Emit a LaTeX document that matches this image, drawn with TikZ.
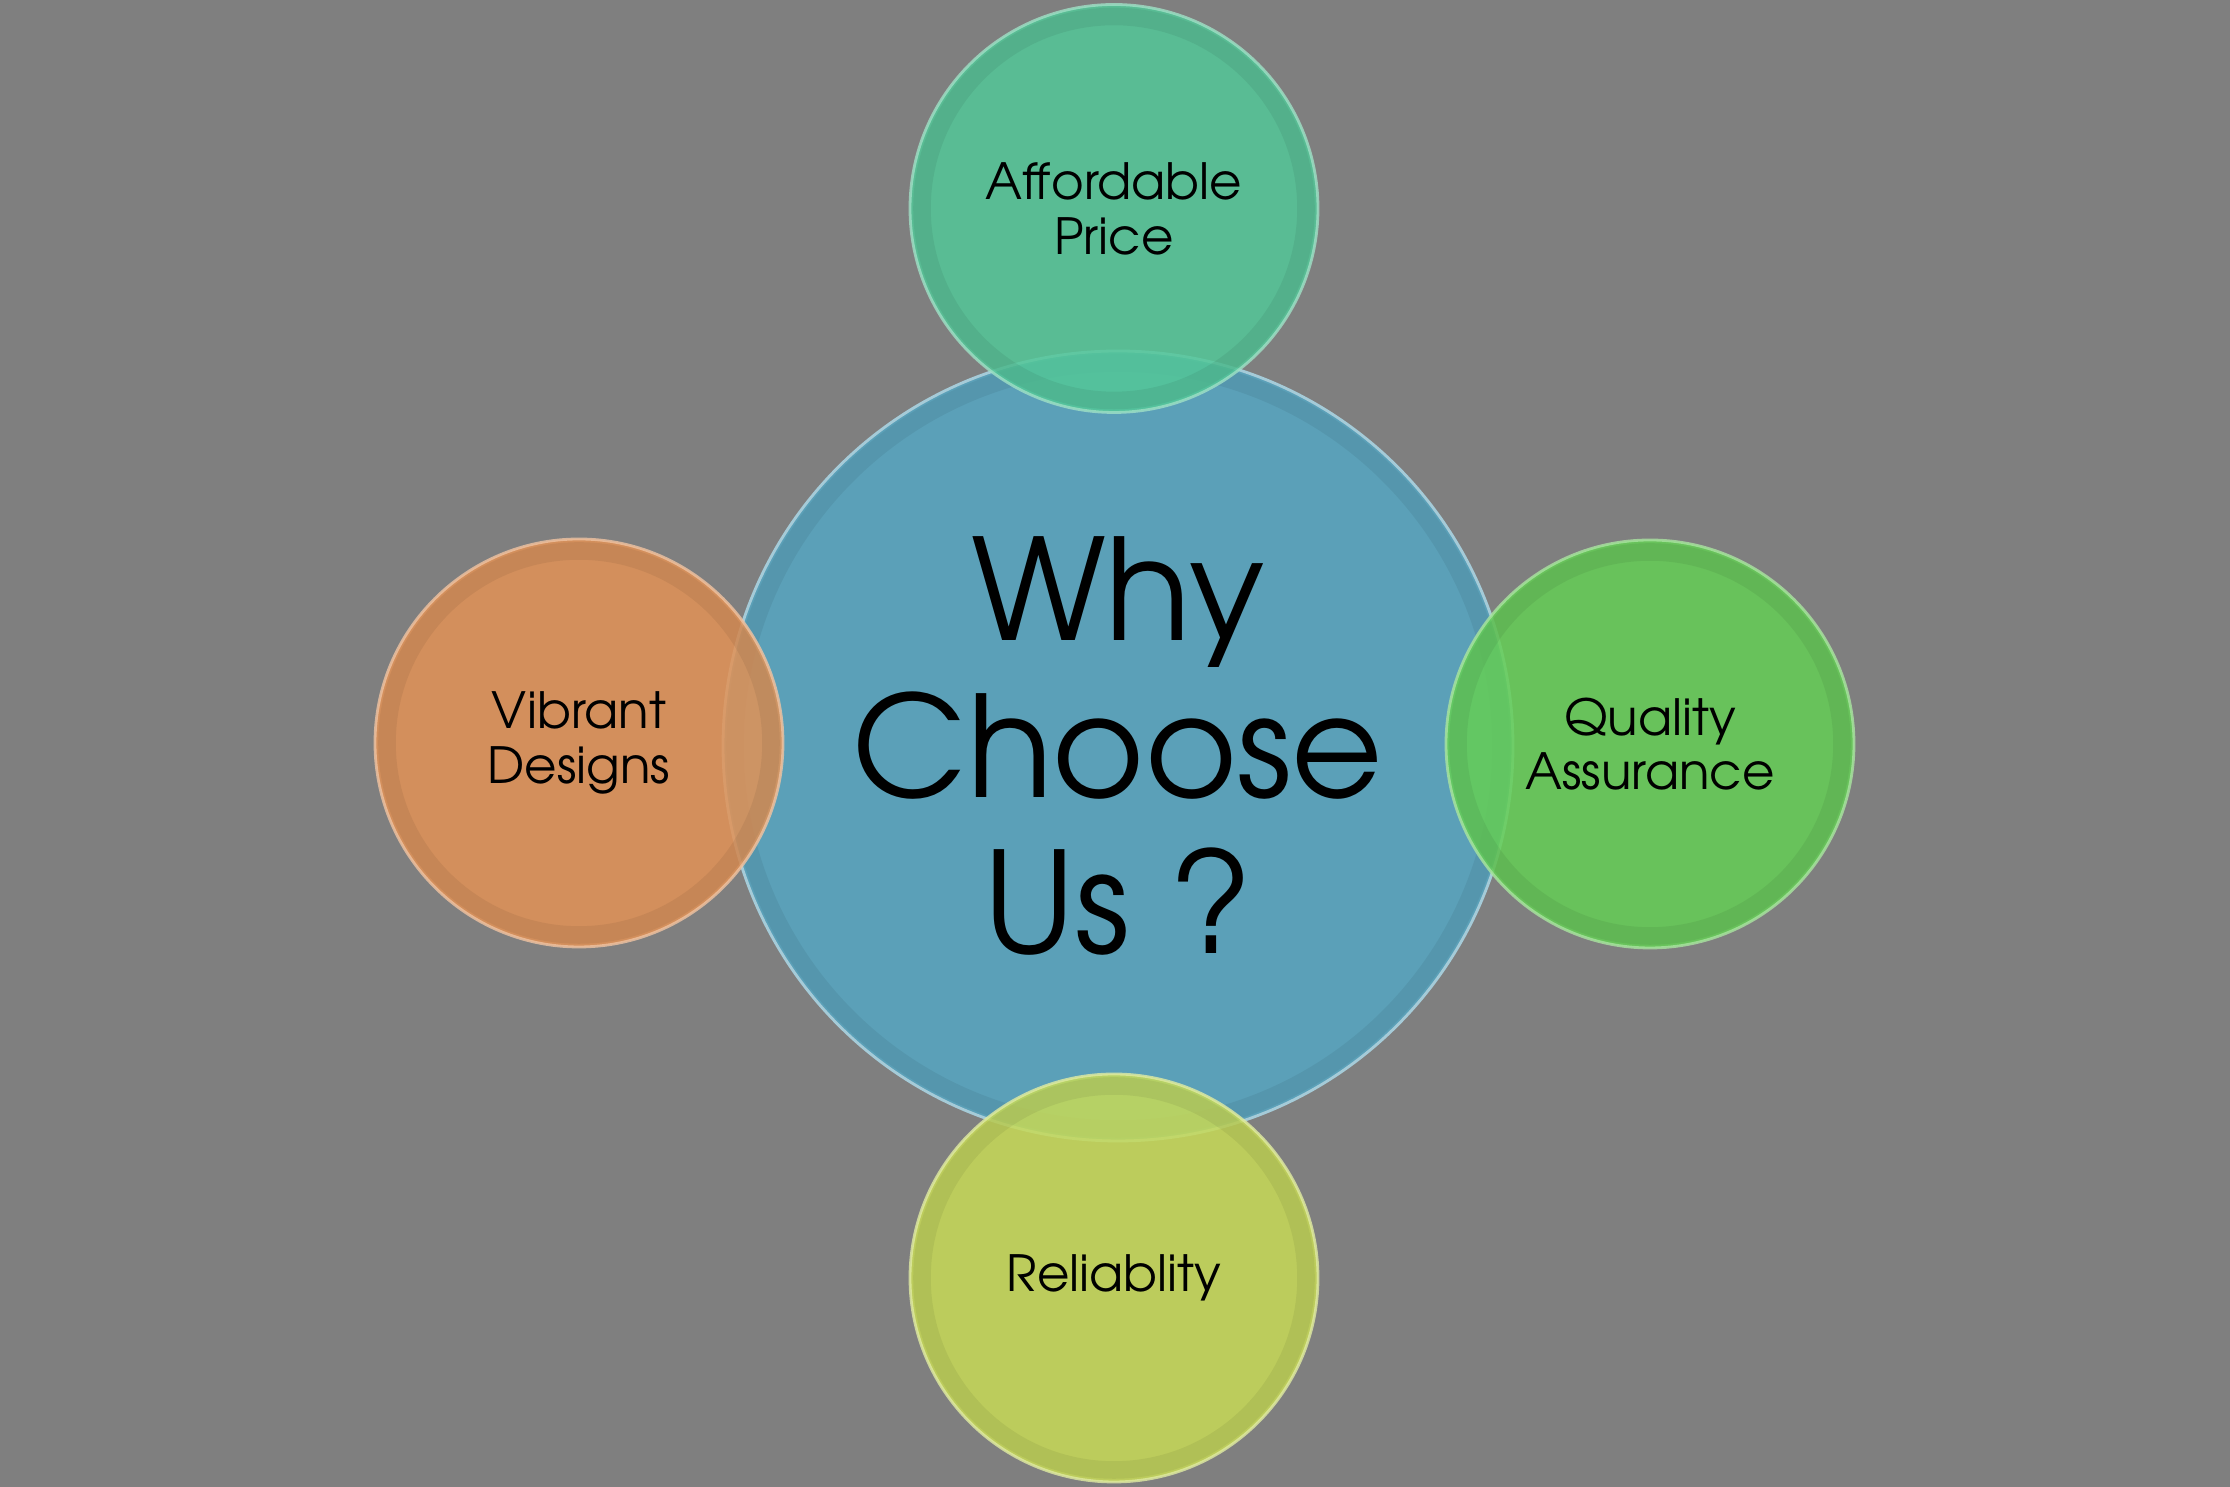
\documentclass[tikz,border=0pt]{standalone}
\usepackage{fontspec}
\setmainfont{TeX Gyre Adventor}
\definecolor{bgGray}{RGB}{127,127,127}
\definecolor{hubBlue}{RGB}{91,160,184}
\definecolor{priceTeal}{RGB}{83,199,152}
\definecolor{designOrange}{RGB}{226,146,86}
\definecolor{qualityGreen}{RGB}{101,206,85}
\definecolor{reliYellow}{RGB}{199,218,87}

\begin{document}
\begin{tikzpicture}
[hub/.style={circle, fill=hubBlue, draw=hubBlue!55!white, line width=.8pt,
  minimum size=7.9cm, inner sep=0pt, align=center,
  font=\fontsize{40}{44.5}\selectfont}, % big centre circle
bubble/.style={circle, fill=#1, fill opacity=.85, text opacity=1,
  draw=#1!55!white, draw opacity=.8, line width=.8pt,
  minimum size=4.08cm, inner sep=0pt, align=center,
  font=\fontsize{14.2}{15.6}\selectfont}, % small outer circles
rim/.style={draw=black, draw opacity=.06, line width=5pt}]
\fill[bgGray] (0,0) rectangle (22.30,14.87);
\useasboundingbox (0,0) rectangle (22.30,14.87);

\node[hub] (why) at (11.18,7.41) {Why\\Choose\\Us ?};
\draw[rim] (why.center) circle (3.83);

\node[bubble=priceTeal] (price) at (11.14,12.785) {Affordable\\Price};
\node[bubble=designOrange] (design) at (5.79,7.44) {Vibrant\\Designs};
\node[bubble=qualityGreen] (quality) at (16.50,7.43) {Quality\\Assurance};
\node[bubble=reliYellow] (reli) at (11.14,2.09) {Reliablity};

\foreach \n in {price,design,quality,reli}
  \draw[rim] (\n.center) circle (1.92);
\end{tikzpicture}
\end{document}
